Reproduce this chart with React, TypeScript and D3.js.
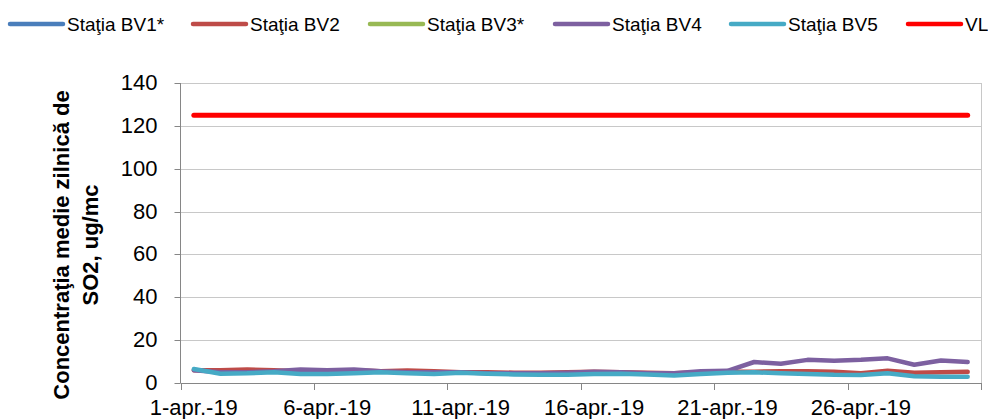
import * as d3 from "d3";
import { useEffect, useRef } from "react";

const dates = [
  "1-apr.-19", "2-apr.-19", "3-apr.-19", "4-apr.-19", "5-apr.-19",
  "6-apr.-19", "7-apr.-19", "8-apr.-19", "9-apr.-19", "10-apr.-19",
  "11-apr.-19", "12-apr.-19", "13-apr.-19", "14-apr.-19", "15-apr.-19",
  "16-apr.-19", "17-apr.-19", "18-apr.-19", "19-apr.-19", "20-apr.-19",
  "21-apr.-19", "22-apr.-19", "23-apr.-19", "24-apr.-19", "25-apr.-19",
  "26-apr.-19", "27-apr.-19", "28-apr.-19", "29-apr.-19", "30-apr.-19",
];

// BV1* and BV3* have no valid data for the month
const bv1: (number | null)[] = dates.map(() => null);
const bv3: (number | null)[] = dates.map(() => null);
const bv2 = [
  6, 6, 6.3, 6, 5.5, 5.5, 6, 5.5, 5.8, 5.5,
  5, 5, 4.8, 4.8, 5, 5.3, 5, 4.8, 4.5, 5,
  5.3, 5.3, 5.5, 5.5, 5.2, 4.5, 5.7, 4.8, 5, 5.2,
];
const bv4 = [
  6, 5, 5, 5.5, 6.3, 6, 6.3, 5.5, 5, 5,
  5, 4.5, 4.5, 4.5, 4.8, 5.3, 5, 4.5, 4.5, 5.5,
  5.7, 9.8, 9, 10.8, 10.4, 10.8, 11.5, 8.5, 10.5, 9.8,
];
const bv5 = [
  6.5, 4.3, 4.5, 5, 4.2, 4.2, 4.5, 5, 4.5, 4.2,
  4.8, 4.3, 4, 3.8, 3.8, 4.2, 4.3, 4, 3.5, 4.2,
  4.8, 5, 4.5, 4.2, 3.8, 3.7, 4.5, 3.2, 2.9, 2.9,
];
const vl = dates.map(() => 125);

const series = [
  { name: "Staţia BV1*", color: "#4A7EBB", values: bv1 },
  { name: "Staţia BV2", color: "#BE4B48", values: bv2 },
  { name: "Staţia BV3*", color: "#98B954", values: bv3 },
  { name: "Staţia BV4", color: "#7D60A0", values: bv4 },
  { name: "Staţia BV5", color: "#46AAC5", values: bv5 },
  { name: "VL", color: "#FF0000", values: vl },
];
const legendX = [10, 193, 370, 555, 731, 908];
const yTicks = [0, 20, 40, 60, 80, 100, 120, 140];

export default function App() {
  const svgRef = useRef<SVGSVGElement>(null);

  useEffect(() => {
    if (!svgRef.current) return;
    const svg = d3.select(svgRef.current);
    svg.selectAll("*").remove();

    const left = 180.5;
    const right = 981;
    const top = 83;
    const bottom = 383;

    const x = d3.scaleBand<string>().domain(dates).range([left, right]).padding(0);
    const y = d3.scaleLinear().domain([0, 140]).range([bottom, top]);
    const cx = (d: string) => (x(d) as number) + x.bandwidth() / 2;

    const font = "Arial, 'Liberation Sans', sans-serif";

    // Gridlines
    svg.append("g")
      .selectAll("line")
      .data(yTicks.filter((t) => t > 0))
      .join("line")
      .attr("x1", left)
      .attr("x2", right)
      .attr("y1", (d) => Math.round(y(d)) + 0.5)
      .attr("y2", (d) => Math.round(y(d)) + 0.5)
      .attr("stroke", "#c8c8c8")
      .attr("stroke-width", 1);

    // right border
    svg.append("line")
      .attr("x1", right + 0.5)
      .attr("x2", right + 0.5)
      .attr("y1", top)
      .attr("y2", bottom)
      .attr("stroke", "#c8c8c8");

    // Y axis
    const yAxis = svg.append("g").attr("transform", `translate(${left},0)`);
    yAxis.append("line")
      .attr("x1", 0).attr("x2", 0)
      .attr("y1", top).attr("y2", bottom)
      .attr("stroke", "#868686");
    yAxis.selectAll("line.tick")
      .data(yTicks)
      .join("line")
      .attr("class", "tick")
      .attr("x1", -6).attr("x2", 0)
      .attr("y1", (d) => Math.round(y(d)) + 0.5)
      .attr("y2", (d) => Math.round(y(d)) + 0.5)
      .attr("stroke", "#868686");
    yAxis.selectAll("text")
      .data(yTicks)
      .join("text")
      .attr("x", -23)
      .attr("y", (d) => y(d) + 7)
      .attr("text-anchor", "end")
      .style("font-family", font)
      .style("font-size", "22px")
      .attr("fill", "#000")
      .text((d) => d);

    // X axis
    const xAxis = svg.append("g");
    xAxis.append("line")
      .attr("x1", left).attr("x2", right)
      .attr("y1", bottom + 0.5).attr("y2", bottom + 0.5)
      .attr("stroke", "#868686");
    const tickIdx = d3.range(0, dates.length + 1, 5);
    xAxis.selectAll("line.tick")
      .data(tickIdx)
      .join("line")
      .attr("class", "tick")
      .attr("x1", (i) => Math.round(i < dates.length ? (x(dates[i]) as number) : right) + 0.5)
      .attr("x2", (i) => Math.round(i < dates.length ? (x(dates[i]) as number) : right) + 0.5)
      .attr("y1", bottom)
      .attr("y2", bottom + 7)
      .attr("stroke", "#868686");
    xAxis.selectAll("text")
      .data(dates.filter((_, i) => i % 5 === 0))
      .join("text")
      .attr("x", (d) => cx(d))
      .attr("y", 415)
      .attr("text-anchor", "middle")
      .style("font-family", font)
      .style("font-size", "22px")
      .attr("fill", "#000")
      .text((d) => d);

    // Y axis title
    const title = svg.append("text")
      .attr("transform", "translate(0,245) rotate(-90)")
      .attr("text-anchor", "middle")
      .style("font-family", font)
      .style("font-size", "22px")
      .style("font-weight", "bold")
      .attr("fill", "#000");
    title.append("tspan").attr("x", 0).attr("y", 69).text("Concentraţia medie zilnică de");
    title.append("tspan").attr("x", 0).attr("y", 98).text("SO2, ug/mc");

    // Lines
    const line = d3
      .line<number | null>()
      .defined((d) => d != null)
      .x((_, i) => cx(dates[i]))
      .y((d) => y(d as number));

    svg.append("g")
      .selectAll("path")
      .data(series)
      .join("path")
      .attr("d", (s) => line(s.values))
      .attr("fill", "none")
      .attr("stroke", (s) => s.color)
      .attr("stroke-width", (s) => (s.name === "VL" ? 5 : 4.5))
      .attr("stroke-linejoin", "round")
      .attr("stroke-linecap", "round");

    // Legend
    const legend = svg.append("g");
    const items = legend.selectAll("g").data(series).join("g")
      .attr("transform", (_, i) => `translate(${legendX[i]},24)`);
    items.append("line")
      .attr("x1", 0).attr("x2", 53)
      .attr("y1", 0).attr("y2", 0)
      .attr("stroke", (s) => s.color)
      .attr("stroke-width", 4.5)
      .attr("stroke-linecap", "round");
    items.append("text")
      .attr("x", 57)
      .attr("y", 7)
      .style("font-family", font)
      .style("font-size", "19px")
      .attr("fill", "#000")
      .text((s) => s.name);
  }, []);

  return (
    <svg
      ref={svgRef}
      width={988}
      height={419}
      style={{ position: "absolute", left: 0, top: 0, background: "#fff" }}
    />
  );
}
